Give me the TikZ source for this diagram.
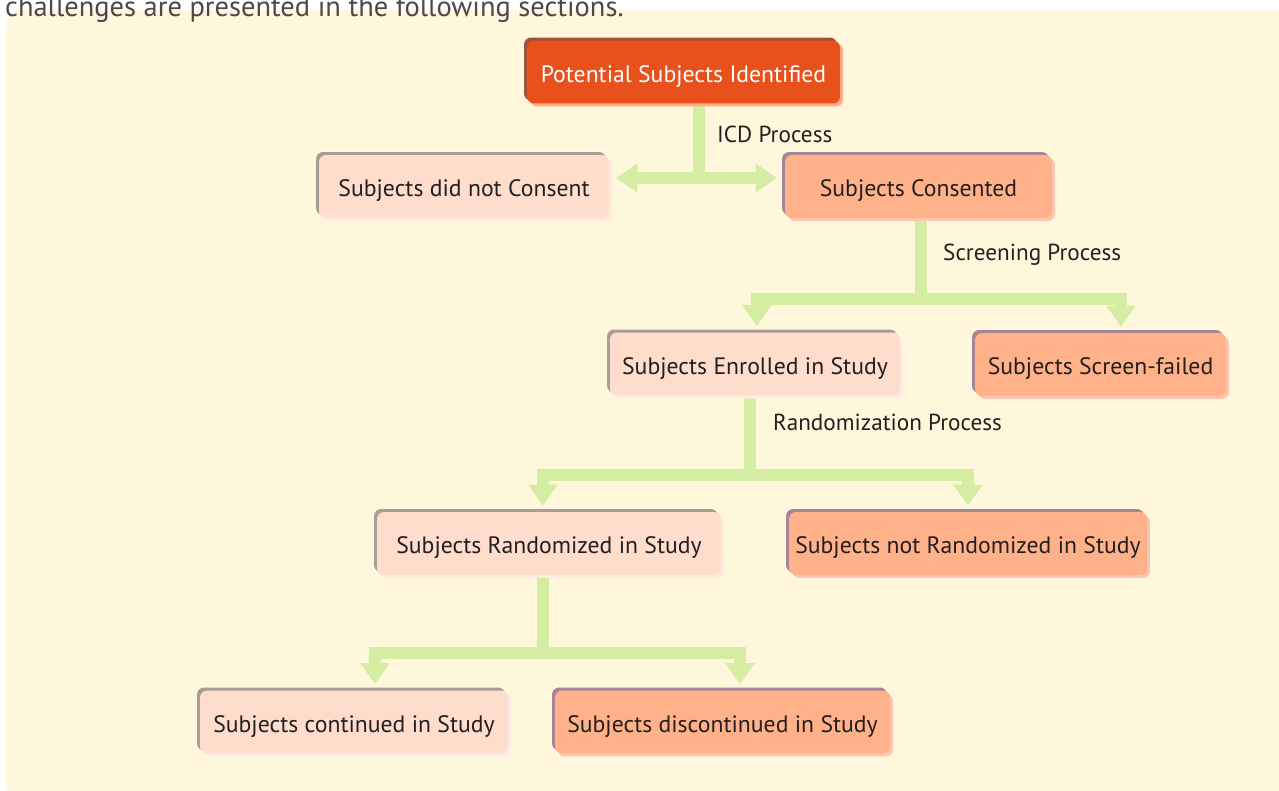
\documentclass[tikz,border=0pt]{standalone}
\usepackage{fontspec}
\setmainfont{PT Sans}
\usetikzlibrary{positioning,arrows.meta,shadows,calc}
\pgfdeclarelayer{backdrop}
\pgfdeclarelayer{background}
\pgfsetlayers{backdrop,background,main}
\definecolor{paper}{HTML}{FFF7DC}
\definecolor{leaf}{HTML}{D5EDA2}
\definecolor{inkdark}{HTML}{231F20}
\definecolor{bodygray}{HTML}{4A4A4A}
\definecolor{hotfill}{HTML}{E8511C}
\definecolor{hotTL}{HTML}{A0523F}
\definecolor{hotBR}{HTML}{FFAA88}
\definecolor{palefill}{HTML}{FFDDCC}
\definecolor{paleTL}{HTML}{A89C96}
\definecolor{paleBR}{HTML}{FFEBE2}
\definecolor{warmfill}{HTML}{FFB18A}
\definecolor{warmTL}{HTML}{A68694}
\definecolor{warmBR}{HTML}{FFC4B0}

\begin{document}
\begin{tikzpicture}[
    x=0.02cm,
    y=-0.02cm,
    subj/.style ={
        rounded corners=4pt,
        minimum height=1.26cm,
        inner sep=0pt,
        text height=14.3pt,
        text depth=2.7pt,
        text=inkdark,
        font=\fontsize{13.5}{16}\selectfont
    },
    hot/.style ={
        subj,
        fill=hotfill,
        text=white,
        general shadow={fill=hotBR, shadow xshift=1.7pt, shadow yshift=-1.7pt},
        general shadow={fill=hotTL, shadow xshift=-1.7pt, shadow yshift=1.7pt}
    },
    pale/.style ={
        subj,
        fill=palefill,
        general shadow={fill=paleBR, shadow xshift=1.7pt, shadow yshift=-1.7pt},
        general shadow={fill=paleTL, shadow xshift=-1.7pt, shadow yshift=1.7pt}
    },
    warm/.style ={
        subj,
        fill=warmfill,
        general shadow={fill=warmBR, shadow xshift=1.7pt, shadow yshift=-1.7pt},
        general shadow={fill=warmTL, shadow xshift=-1.7pt, shadow yshift=1.7pt}
    },
    flow/.style ={
        draw=leaf,
        line width=0.24cm
    },
    tip/.tip={Triangle[width=0.56cm,length=0.42cm]},
    step label/.style ={
        anchor=west,
        text=inkdark,
        font=\fontsize{13.2}{16}\selectfont
    }
    ]
    \useasboundingbox (0,0) rectangle (1279,791);
    \begin{pgfonlayer}{backdrop}
        \fill[paper, rounded corners=8pt] (6,10) rectangle (1290,800);
    \end{pgfonlayer}
    \node[anchor=base west, text=bodygray, font=\fontsize{16.2}{19}\selectfont] (intro) at (-1,16)
        {challenges are presented in the following sections.};

    % boxes
    \node[hot, minimum width=6.26cm] (identified) at (683.5,72) {Potential Subjects Identified};
    \node[pale, minimum width=5.8cm] (noconsent) at (464,186.5) {Subjects did not Consent};
    \node[warm, minimum width=5.34cm] (consented) at (918.5,186.5) {Subjects Consented};
    \node[pale, minimum width=5.8cm] (enrolled) at (755,364) {Subjects Enrolled in Study};
    \node[warm, minimum width=5.02cm] (failed) at (1100.5,364.5) {Subjects Screen-failed};
    \node[pale, minimum width=6.88cm] (randomized) at (549,543.5) {Subjects Randomized in Study};
    \node[warm, minimum width=7.16cm] (notrand) at (968,543.5) {Subjects not Randomized in Study};
    \node[pale, minimum width=6.16cm] (continued) at (354,722) {Subjects continued in Study};
    \node[warm, minimum width=6.7cm] (discont) at (722.5,722) {Subjects discontinued in Study};

    % process labels
    \node[step label] (icdlbl) at (711,134) {ICD Process};
    \node[step label] (scrlbl) at (937,255) {Screening Process};
    \node[step label] (rndlbl) at (767,422) {Randomization Process};

    % connectors
    \coordinate (icd) at (699,178);
    \coordinate (scr) at (921,299);
    \coordinate (rnd) at (750,475);
    \coordinate (crs) at (543,653);
    \begin{pgfonlayer}{background}
        \draw[flow] (identified.south -| icd) -- (icd);
        \draw[flow, tip-tip, shorten <=0.14cm, shorten >=0.16cm] (noconsent.east |- icd) -- (consented.west |- icd);

        \draw[flow] (consented.south -| scr) -- (scr);
        \draw[flow, -tip, shorten >=0.12cm] (scr) -| ([xshift=0.04cm]enrolled.north);
        \draw[flow, -tip, shorten >=0.12cm] (scr) -| ([xshift=0.41cm]failed.north);

        \draw[flow] (enrolled.south -| rnd) -- (rnd);
        \draw[flow, -tip, shorten >=0.12cm] (rnd) -| ([xshift=-0.12cm]randomized.north);
        \draw[flow, -tip, shorten >=0.12cm] (rnd) -| (notrand.north);

        \draw[flow] (randomized.south -| crs) -- (crs);
        \draw[flow, -tip, shorten >=0.12cm] (crs) -| ([xshift=0.42cm]continued.north);
        \draw[flow, -tip, shorten >=0.12cm] (crs) -| ([xshift=0.35cm]discont.north);
    \end{pgfonlayer}
\end{tikzpicture}
\end{document}
